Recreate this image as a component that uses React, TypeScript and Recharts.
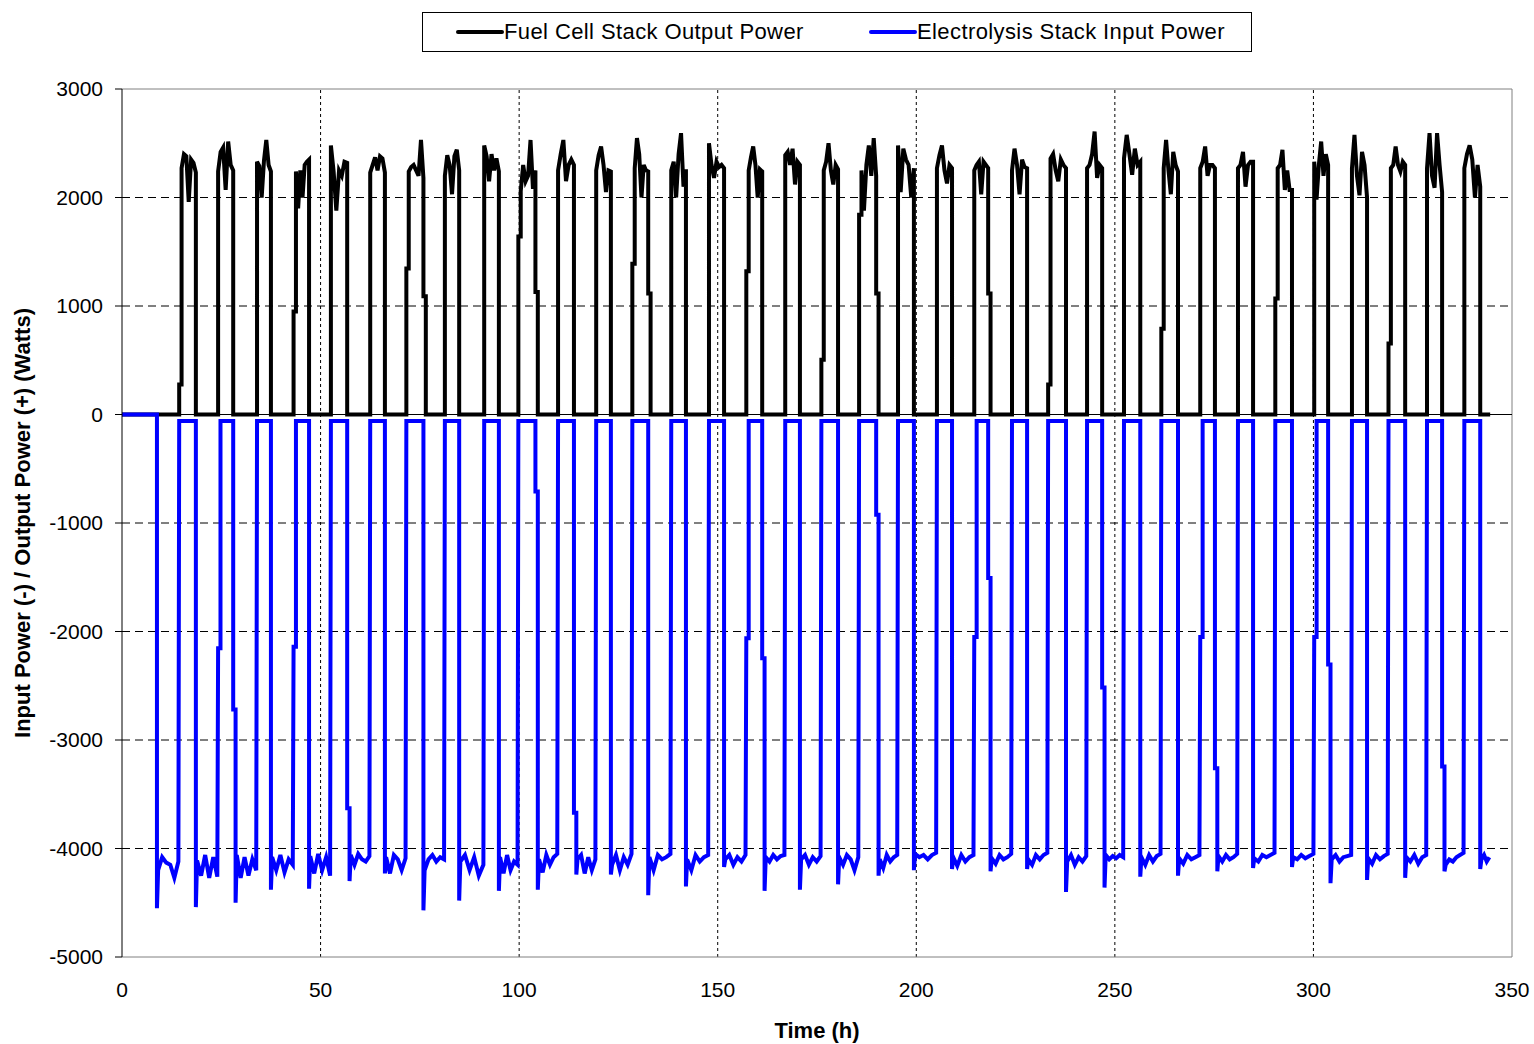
import React from 'react';
import {
  LineChart,
  Line,
  XAxis,
  YAxis,
  ReferenceLine,
  Legend,
} from 'recharts';

// ---------- data ----------
const HOUR_TICKS = [0, 50, 100, 150, 200, 250, 300, 350];
const WATT_TICKS = [-5000, -4000, -3000, -2000, -1000, 0, 1000, 2000, 3000];
const GRID_HOURS = [50, 100, 150, 200, 250, 300];
const GRID_WATTS = [-4000, -3000, -2000, -1000, 1000, 2000];

const END_HOUR = 344.5; // end of recorded data
const EL_START = 8.8; // electrolysis first switched on
const EL_ON_LEVEL = -60; // electrolysis idle level while fuel cell runs

// fuel cell pulses: switch-on / switch-off times (h)
const fcRise = [
  14.4, 24.2, 34.0, 43.2, 52.6, 62.5, 71.6, 81.3, 91.2, 99.8, 109.8, 119.4,
  128.5, 138.3, 147.8, 157.2, 167.0, 176.1, 185.6, 195.4, 205.2, 214.6, 224.1,
  233.2, 243.0, 252.3, 261.7, 271.5, 281.0, 290.4, 300.2, 309.7, 318.9, 328.6,
  338.0,
];
const fcFall = [
  18.6, 28.0, 37.5, 47.1, 56.7, 66.2, 75.9, 84.9, 94.9, 104.1, 113.8, 123.1,
  132.5, 142.0, 151.6, 161.2, 170.7, 180.3, 189.9, 199.4, 209.0, 218.1, 227.9,
  237.7, 246.8, 256.4, 265.9, 275.2, 284.8, 294.6, 303.7, 313.5, 323.1, 332.4,
  342.0,
];
// intermediate level on start-up / shut-down (0 = none), W
const fcRiseStep = [
  276, 0, 0, 950, 0, 0, 1345, 0, 0, 1640, 0, 0, 1390, 0, 0, 1320, 0, 505, 1840,
  0, 0, 0, 0, 276, 0, 0, 790, 0, 0, 1070, 0, 0, 655, 0, 0,
];
const fcFallStep = [
  0, 0, 0, 0, 0, 0, 1090, 0, 0, 1130, 0, 0, 1115, 0, 0, 0, 0, 0, 1115, 0, 0,
  1115, 0, 0, 0, 0, 0, 0, 0, 0, 0, 0, 0, 0, 0,
];
// output power plateau of each pulse, W
const fcLevels = [
  [2270, 2400, 2380, 1960, 2350, 2320, 2230],
  [2240, 2420, 2460, 2070, 2516, 2300, 2250],
  [2330, 2290, 2000, 2340, 2530, 2300, 2240],
  [2240, 1900, 2250, 2000, 2300, 2330, 2350],
  [2480, 2240, 1880, 2250, 2200, 2330, 2320],
  [2230, 2300, 2370, 2250, 2380, 2360, 2230],
  [2240, 2280, 2300, 2250, 2200, 2530, 2180],
  [2200, 2390, 2300, 2030, 2380, 2440, 2250],
  [2480, 2380, 2150, 2400, 2250, 2360, 2240],
  [2060, 2300, 2150, 2200, 2530, 2080, 2250],
  [2250, 2400, 2530, 2150, 2300, 2350, 2300],
  [2250, 2390, 2470, 2300, 2050, 2250, 2240],
  [2270, 2547, 2400, 2000, 2300, 2250, 2240],
  [2250, 2330, 2000, 2400, 2593, 2100, 2260],
  [2500, 2300, 2180, 2330, 2280, 2300, 2270],
  [2250, 2370, 2470, 2300, 2000, 2260, 2240],
  [2390, 2420, 2300, 2450, 2120, 2330, 2300],
  [2250, 2330, 2500, 2250, 2120, 2300, 2260],
  [2250, 1880, 2300, 2480, 2200, 2547, 2200],
  [2480, 2050, 2450, 2350, 2300, 2000, 2270],
  [2270, 2390, 2480, 2250, 2130, 2300, 2270],
  [2250, 2300, 2330, 2030, 2330, 2300, 2270],
  [2250, 2450, 2300, 2030, 2350, 2280, 2270],
  [2360, 2400, 2250, 2150, 2350, 2300, 2270],
  [2270, 2300, 2400, 2608, 2180, 2300, 2270],
  [2360, 2577, 2400, 2210, 2450, 2300, 2330],
  [2270, 2530, 2250, 2030, 2420, 2300, 2240],
  [2270, 2330, 2470, 2200, 2300, 2300, 2270],
  [2270, 2300, 2420, 2100, 2300, 2330, 2330],
  [2270, 2300, 2440, 2070, 2250, 2070, 2070],
  [2330, 1980, 2300, 2516, 2200, 2400, 2300],
  [2270, 2577, 2200, 2020, 2420, 2300, 2000],
  [2270, 2300, 2470, 2300, 2240, 2330, 2300],
  [2270, 2593, 2200, 2090, 2593, 2300, 2050],
  [2270, 2400, 2480, 2350, 2000, 2300, 2100],
];

// electrolysis: intermediate levels when leaving / entering the -4 kW state (0 = none)
const elRiseStep = [
  0, -2154, 0, -2140, 0, 0, 0, 0, 0, 0, 0, 0, 0, 0, 0, -2062, 0, 0, 0, 0, 0,
  -2050, 0, 0, 0, 0, 0, -2050, 0, 0, -2050, 0, 0, 0, 0,
];
const elFallStep = [
  0, -2720, 0, 0, -3628, 0, 0, 0, 0, -710, -3670, 0, 0, 0, 0, -2246, 0, 0,
  -925, 0, 0, -1508, 0, 0, -2516, 0, 0, -3260, 0, 0, -2305, 0, 0, -3245, 0,
];
// electrolysis input power in each "on" period: first value is the start spike, W
const elOff = [
  [-4550, -4200, -4080, -4130, -4150, -4270, -4120],
  [-4540, -4110, -4250, -4060, -4270, -4080, -4260],
  [-4500, -4060, -4270, -4080, -4250, -4100, -4200],
  [-4380, -4080, -4200, -4060, -4220, -4100, -4150],
  [-4370, -4070, -4230, -4050, -4200, -4080, -4250],
  [-4300, -4060, -4150, -4050, -4100, -4120, -4070],
  [-4230, -4080, -4230, -4060, -4100, -4200, -4090],
  [-4570, -4200, -4100, -4060, -4120, -4080, -4100],
  [-4480, -4120, -4060, -4200, -4080, -4250, -4150],
  [-4390, -4080, -4230, -4060, -4200, -4120, -4150],
  [-4380, -4100, -4220, -4060, -4150, -4080, -4050],
  [-4240, -4100, -4060, -4230, -4080, -4200, -4100],
  [-4240, -4150, -4060, -4200, -4080, -4150, -4050],
  [-4430, -4080, -4200, -4060, -4100, -4080, -4050],
  [-4350, -4100, -4200, -4060, -4120, -4080, -4060],
  [-4170, -4100, -4060, -4150, -4080, -4120, -4060],
  [-4390, -4080, -4120, -4060, -4100, -4070, -4060],
  [-4380, -4100, -4060, -4150, -4080, -4120, -4070],
  [-4330, -4080, -4150, -4060, -4100, -4200, -4080],
  [-4250, -4100, -4180, -4060, -4120, -4080, -4060],
  [-4200, -4050, -4080, -4060, -4100, -4060, -4040],
  [-4190, -4080, -4160, -4060, -4120, -4080, -4060],
  [-4210, -4090, -4140, -4060, -4100, -4080, -4050],
  [-4190, -4100, -4150, -4060, -4100, -4060, -4040],
  [-4400, -4120, -4060, -4150, -4080, -4120, -4070],
  [-4360, -4060, -4100, -4070, -4090, -4060, -4080],
  [-4260, -4080, -4150, -4060, -4120, -4070, -4050],
  [-4250, -4090, -4140, -4060, -4100, -4080, -4060],
  [-4210, -4070, -4120, -4060, -4100, -4080, -4050],
  [-4180, -4090, -4120, -4060, -4080, -4060, -4040],
  [-4170, -4080, -4100, -4060, -4090, -4070, -4050],
  [-4320, -4100, -4060, -4120, -4080, -4070, -4060],
  [-4290, -4090, -4140, -4060, -4100, -4070, -4050],
  [-4270, -4080, -4120, -4060, -4140, -4080, -4060],
  [-4210, -4150, -4100, -4120, -4080, -4060, -4040],
  [-4190, -4100, -4060, -4120, -4080],
];

const SERIES_NAMES = ['Fuel Cell Stack Output Power', 'Electrolysis Stack Input Power'];
const SERIES_COLORS = ['#000000', '#0000FF'];

// ---------- series tables built from the arrays ----------
type Pt = { x: number; y: number };
const STEP_HOLD = 0.6;

function buildFuelCell(): Pt[] {
  const pts: Pt[] = [{ x: 0, y: 0 }];
  fcRise.forEach((r, i) => {
    const f = fcFall[i];
    const lv = fcLevels[i];
    pts.push({ x: r, y: 0 });
    let start = r;
    if (fcRiseStep[i]) {
      pts.push({ x: r, y: fcRiseStep[i] });
      start = r + STEP_HOLD;
      pts.push({ x: start, y: fcRiseStep[i] });
    }
    const span = f - start;
    lv.forEach((v, k) => pts.push({ x: start + (span * k) / (lv.length - 1), y: v }));
    if (fcFallStep[i]) {
      pts.push({ x: f, y: fcFallStep[i] });
      pts.push({ x: f + STEP_HOLD, y: fcFallStep[i] });
      pts.push({ x: f + STEP_HOLD, y: 0 });
    } else {
      pts.push({ x: f, y: 0 });
    }
  });
  pts.push({ x: END_HOUR, y: 0 });
  return pts;
}

function buildElectrolysis(): Pt[] {
  const pts: Pt[] = [
    { x: 0, y: 0 },
    { x: EL_START, y: 0 },
  ];
  let offStart = EL_START;
  elOff.forEach((off, i) => {
    const end = i < fcRise.length ? fcRise[i] : END_HOUR;
    pts.push({ x: offStart, y: off[0] });
    const rest = off.slice(1);
    const a = offStart + 0.3;
    const b = end - 0.2;
    rest.forEach((v, k) => pts.push({ x: a + ((b - a) * k) / (rest.length - 1), y: v }));
    if (i < fcRise.length) {
      if (elRiseStep[i]) {
        pts.push({ x: end, y: elRiseStep[i] });
        pts.push({ x: end + STEP_HOLD, y: elRiseStep[i] });
        pts.push({ x: end + STEP_HOLD, y: EL_ON_LEVEL });
      } else {
        pts.push({ x: end, y: EL_ON_LEVEL });
      }
      const f = fcFall[i];
      pts.push({ x: f, y: EL_ON_LEVEL });
      if (elFallStep[i]) {
        pts.push({ x: f, y: elFallStep[i] });
        pts.push({ x: f + STEP_HOLD, y: elFallStep[i] });
        offStart = f + STEP_HOLD;
      } else {
        offStart = f;
      }
    }
  });
  return pts;
}

const fuelCellData = buildFuelCell();
const electrolysisData = buildElectrolysis();

// ---------- styling ----------
const FONT = '"Liberation Sans", Arial, sans-serif';
const LEGEND_ITEM_LEFT = [33, 446];

const renderLegend = () => (
  <div
    style={{
      position: 'relative',
      width: 830,
      height: 40,
      boxSizing: 'border-box',
      border: '1px solid #000',
      background: '#fff',
      fontFamily: FONT,
      fontSize: 22,
      letterSpacing: 0.4,
      color: '#000',
    }}
  >
    {SERIES_NAMES.map((name, i) => (
      <div
        key={name}
        style={{
          position: 'absolute',
          left: LEGEND_ITEM_LEFT[i],
          top: 0,
          height: 38,
          display: 'flex',
          alignItems: 'center',
          whiteSpace: 'nowrap',
        }}
      >
        <span
          style={{
            display: 'inline-block',
            width: 48,
            height: 4,
            borderRadius: 2,
            background: SERIES_COLORS[i],
          }}
        />
        <span>{name}</span>
      </div>
    ))}
  </div>
);

export default function App() {
  return (
    <div style={{ position: 'absolute', left: 0, top: 0, background: '#fff' }}>
      <LineChart
        width={1534}
        height={1044}
        margin={{ top: 89, right: 22, bottom: 0, left: 0 }}
        style={{ fontFamily: FONT }}
      >
        {GRID_WATTS.map((w) => (
          <ReferenceLine key={`gy${w}`} y={w} stroke="#000" strokeDasharray="8 5" />
        ))}
        {GRID_HOURS.map((h) => (
          <ReferenceLine key={`gx${h}`} x={h} stroke="#000" strokeDasharray="3 3" />
        ))}
        <ReferenceLine y={3000} stroke="#808080" />
        <ReferenceLine x={350} stroke="#808080" />
        <ReferenceLine y={0} stroke="#000" />
        <XAxis
          type="number"
          dataKey="x"
          domain={[0, 350]}
          ticks={HOUR_TICKS}
          allowDataOverflow
          height={87}
          tickLine={false}
          tickSize={6}
          tickMargin={19}
          axisLine={{ stroke: '#808080' }}
          tick={{ fill: '#000', fontSize: 21, fontFamily: FONT }}
          label={{
            value: 'Time (h)',
            position: 'insideBottom',
            offset: 6,
            style: { fontWeight: 'bold', fontSize: 22, fill: '#000', fontFamily: FONT },
          }}
        />
        <YAxis
          type="number"
          dataKey="y"
          domain={[-5000, 3000]}
          ticks={WATT_TICKS}
          allowDataOverflow
          width={122}
          tickSize={7}
          tickMargin={12}
          tickLine={{ stroke: '#000' }}
          axisLine={{ stroke: '#000' }}
          tick={{ fill: '#000', fontSize: 21, fontFamily: FONT }}
          label={{
            value: 'Input Power (-) / Output Power (+) (Watts)',
            angle: -90,
            position: 'insideLeft',
            offset: 22,
            style: {
              textAnchor: 'middle',
              fontWeight: 'bold',
              fontSize: 22,
              fill: '#000',
              fontFamily: FONT,
            },
          }}
        />
        <Legend
          content={renderLegend}
          layout="vertical"
          verticalAlign="middle"
          align="center"
          wrapperStyle={{ position: 'absolute', top: 12, left: 422, width: 830, height: 40 }}
        />
        <Line
          data={fuelCellData}
          dataKey="y"
          name={SERIES_NAMES[0]}
          type="linear"
          stroke={SERIES_COLORS[0]}
          strokeWidth={4}
          dot={false}
          activeDot={false}
          isAnimationActive={false}
        />
        <Line
          data={electrolysisData}
          dataKey="y"
          name={SERIES_NAMES[1]}
          type="linear"
          stroke={SERIES_COLORS[1]}
          strokeWidth={4}
          dot={false}
          activeDot={false}
          isAnimationActive={false}
        />
      </LineChart>
    </div>
  );
}
